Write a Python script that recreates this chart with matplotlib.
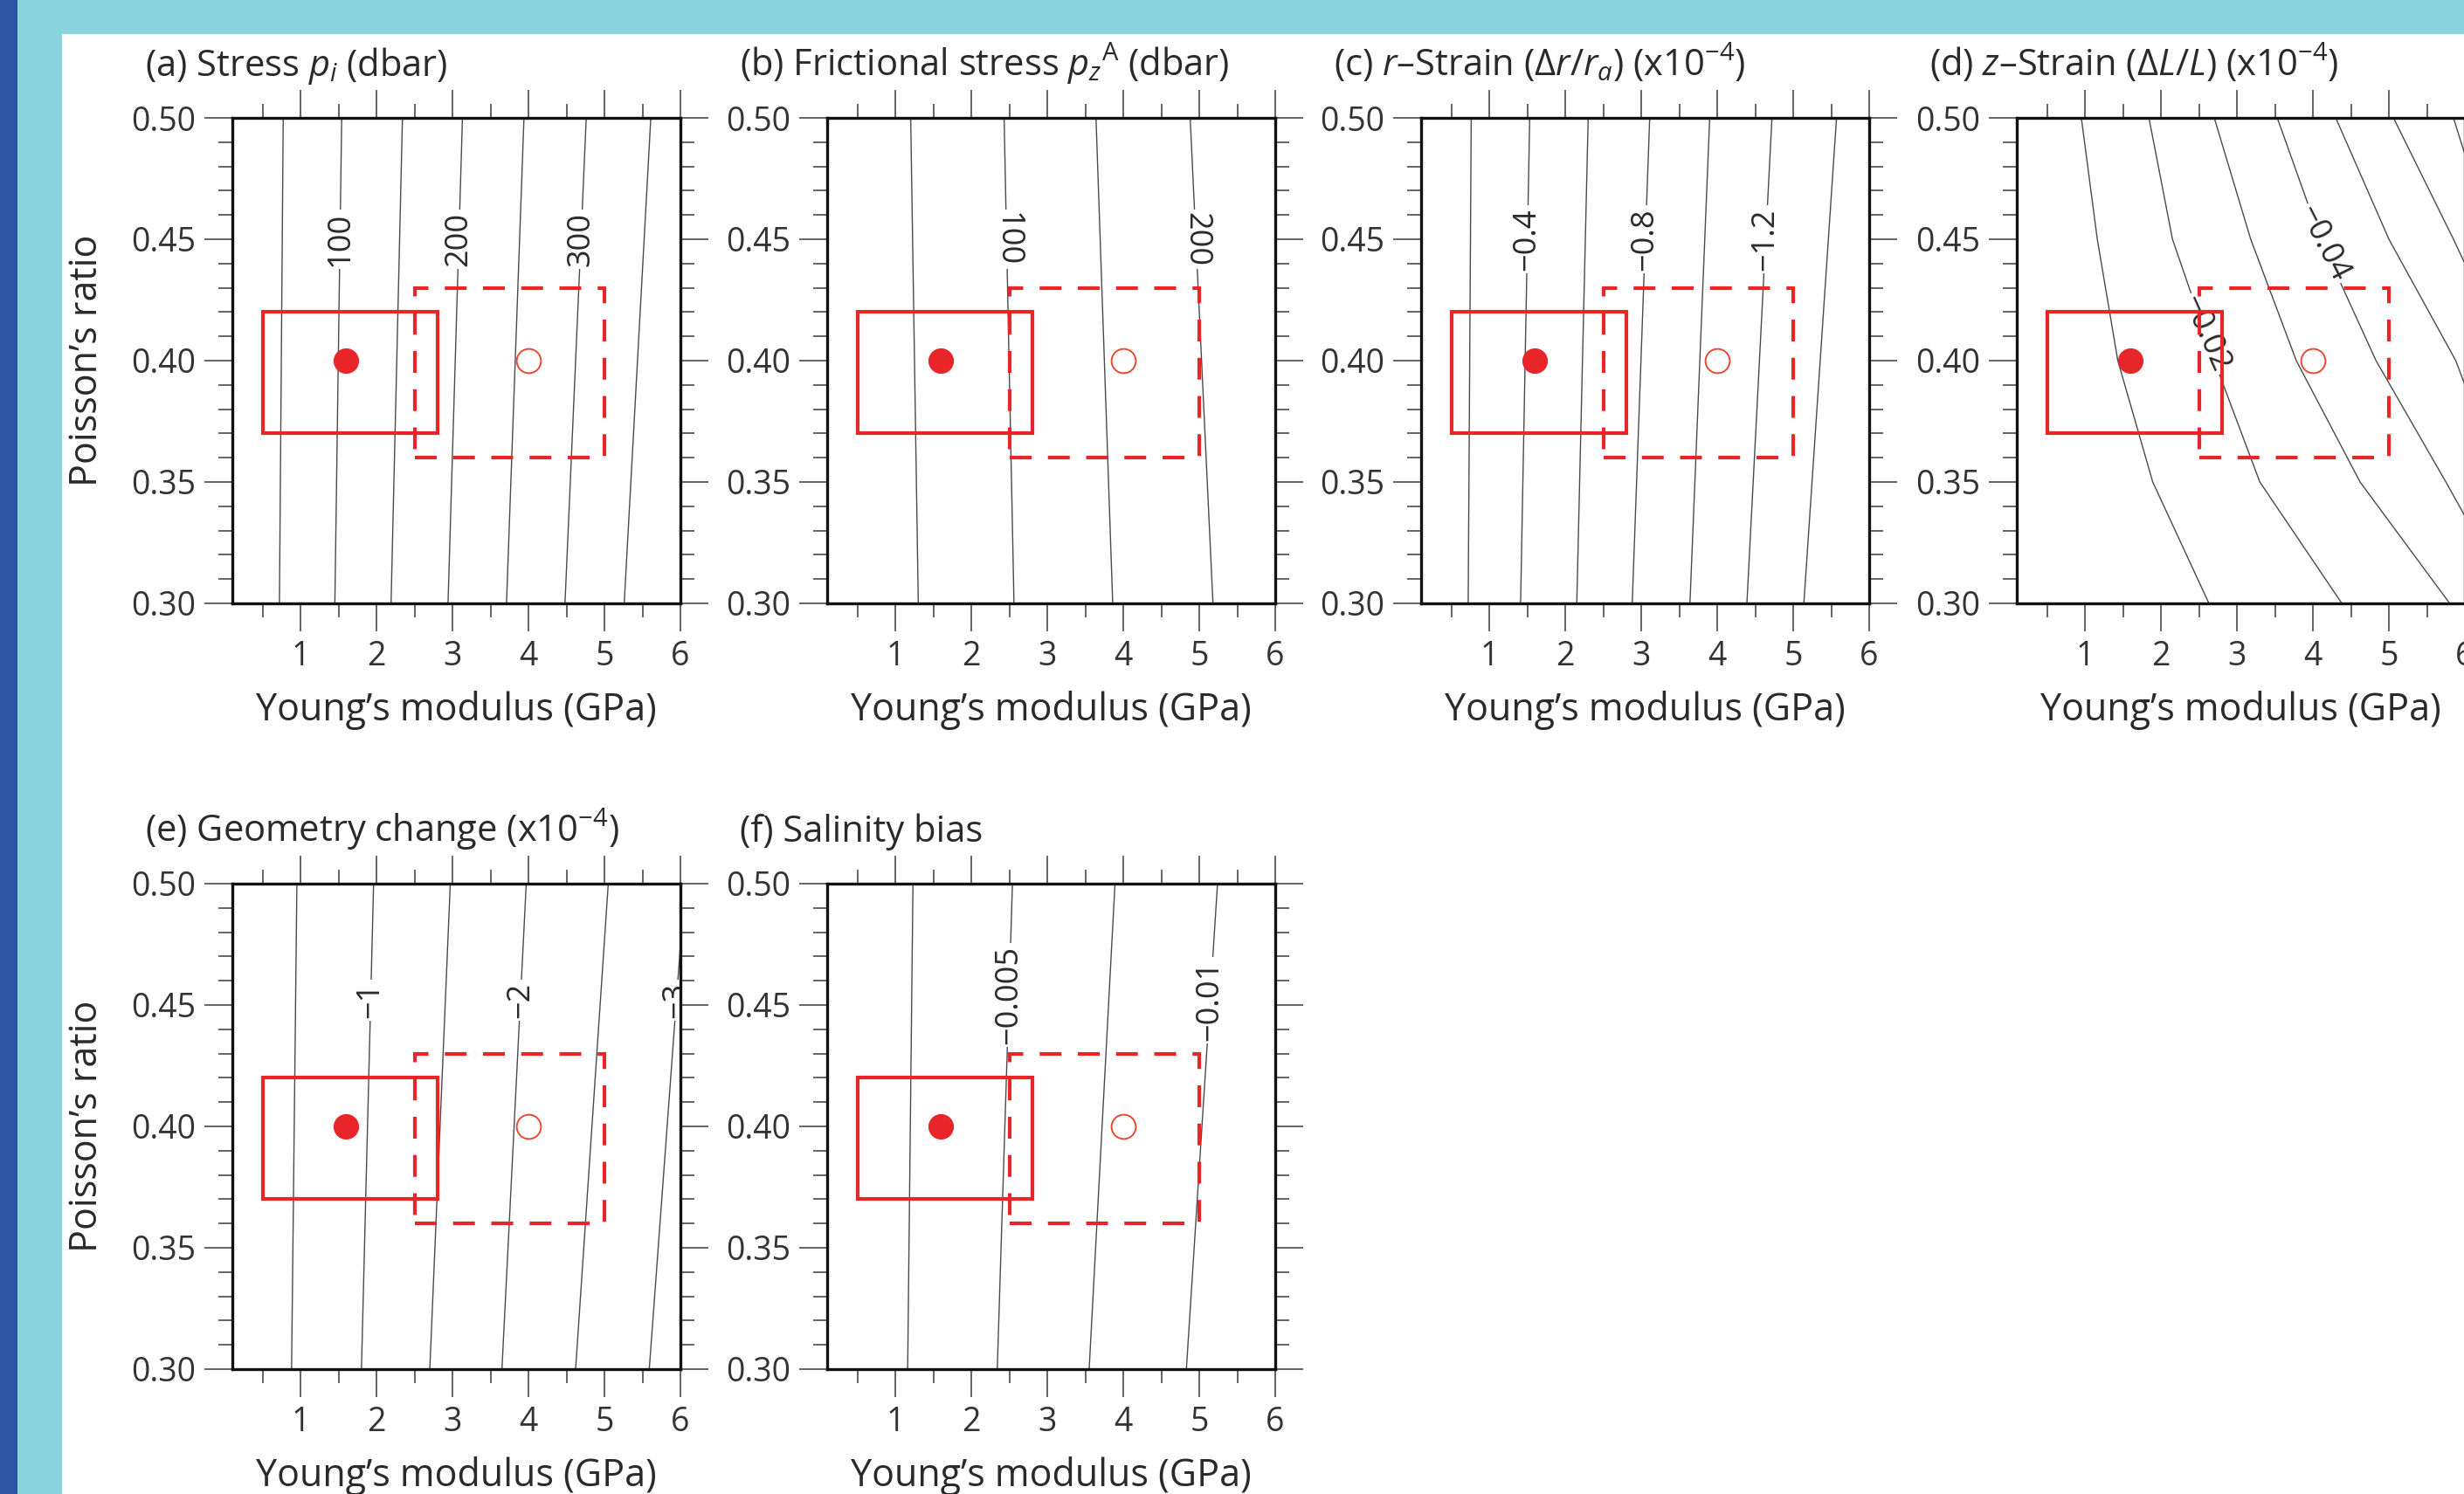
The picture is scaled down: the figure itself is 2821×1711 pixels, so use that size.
import numpy as np
import matplotlib.pyplot as plt
from matplotlib.patches import Rectangle
from matplotlib.ticker import MultipleLocator, FormatStrFormatter

plt.rcParams['font.family'] = ['Open Sans', 'DejaVu Sans']
plt.rcParams['mathtext.fontset'] = 'custom'
plt.rcParams['mathtext.rm'] = 'Open Sans'
plt.rcParams['mathtext.it'] = 'Open Sans:italic'
plt.rcParams['mathtext.bf'] = 'Open Sans:bold'

# --- data --------------------------------------------------------------
# E (GPa) where each contour crosses nu = 0.30 (bottom) and nu = 0.50 (top)
NU_EDGE = [0.30, 0.50]

stress_levels = [50, 100, 150, 200, 250, 300, 350]
stress_bot = [0.72, 1.45, 2.19, 2.94, 3.71, 4.48, 5.26]
stress_top = [0.77, 1.54, 2.34, 3.13, 3.94, 4.76, 5.61]

fric_levels = [50, 100, 150, 200]
fric_bot = [1.30, 2.56, 3.86, 5.18]
fric_top = [1.20, 2.43, 3.64, 4.88]

rstrain_levels = [-0.2, -0.4, -0.6, -0.8, -1.0, -1.2, -1.4]
rstrain_bot = [0.72, 1.41, 2.15, 2.88, 3.64, 4.39, 5.14]
rstrain_top = [0.76, 1.53, 2.30, 3.11, 3.90, 4.72, 5.57]

geom_levels = [-0.5, -1.0, -1.5, -2.0, -2.5, -3.0]
geom_bot = [0.88, 1.80, 2.70, 3.65, 4.62, 5.59]
geom_top = [0.95, 1.96, 2.97, 3.97, 5.05, 6.06]

sal_levels = [-0.0025, -0.005, -0.0075, -0.01]
sal_bot = [1.16, 2.34, 3.55, 4.83]
sal_top = [1.23, 2.54, 3.89, 5.24]

# z-strain contours are curved: (nu, E) samples along each line
zstrain_levels = [-0.01, -0.02, -0.03, -0.04, -0.05, -0.06, -0.07]
zstrain_nu = [
    [0.50, 0.45, 0.40, 0.35, 0.30],
    [0.50, 0.45, 0.40, 0.35, 0.30],
    [0.50, 0.45, 0.40, 0.35, 0.30],
    [0.50, 0.45, 0.40, 0.35, 0.336],
    [0.50, 0.45, 0.40, 0.39],
    [0.50, 0.45, 0.44],
    [0.50, 0.485],
]
zstrain_E = [
    [0.95, 1.16, 1.43, 1.89, 2.63],
    [1.84, 2.15, 2.70, 3.30, 4.38],
    [2.70, 3.18, 3.78, 4.62, 5.80],
    [3.53, 4.10, 4.83, 5.75, 6.00],
    [4.30, 5.00, 5.88, 6.00],
    [5.06, 5.85, 6.00],
    [5.85, 6.00],
]

# labelled contours: (level index, nu of label)
stress_labels = [(1, 0.45), (3, 0.45), (5, 0.45)]
fric_labels = [(1, 0.45), (3, 0.45)]
rstrain_labels = [(1, 0.45), (3, 0.45), (5, 0.45)]
geom_labels = [(1, 0.452), (3, 0.452), (5, 0.452)]
sal_labels = [(1, 0.454), (3, 0.452)]
zstrain_labels = [(1, 0.411, -66), (3, 0.448, -63)]

# parameter ranges / points
ref_box = [0.5, 2.8, 0.37, 0.42]
alt_box = [2.5, 5.0, 0.36, 0.43]
ref_point = (1.6, 0.40)
alt_point = (4.0, 0.40)

titles = [
    r'(a) Stress $p_i$ (dbar)',
    r'(b) Frictional stress $p_z{}^{\mathrm{A}}$ (dbar)',
    r'(c) $r$–Strain ($\Delta r/r_a$) (x10$^{-4}$)',
    r'(d) $z$–Strain ($\Delta L/L$) (x10$^{-4}$)',
    r'(e) Geometry change (x10$^{-4}$)',
    r'(f) Salinity bias',
]

# --- layout ------------------------------------------------------------
W, H = 2821, 1711
COL_LEFT = [266, 947, 1627, 2309]
ROW_TOP = [135, 1012]
AX_W, AX_H = 513, 556
RED = '#e8262a'
TEAL = '#88d3de'
BLUE = '#2c55a4'
TXT = '#2a2a2a'


def fmt(v):
    s = f'{abs(v):g}'
    return ('\u2212' + s) if v < 0 else s


def straight_panel(ax, levels, bot, top, labels, rot):
    for b, t in zip(bot, top):
        ax.plot([b, t], NU_EDGE, color='#4a4a4a', lw=1.0, zorder=1)
    for idx, nu in labels:
        e = np.interp(nu, NU_EDGE, [bot[idx], top[idx]])
        ax.text(e, nu, fmt(levels[idx]), rotation=rot, ha='center', va='center',
                rotation_mode='anchor', fontsize=26, color=TXT, zorder=2,
                clip_on=True, bbox=dict(fc='white', ec='none', pad=2))


def curved_panel(ax):
    for nus, es in zip(zstrain_nu, zstrain_E):
        ax.plot(es, nus, color='#4a4a4a', lw=1.0, zorder=1)
    for idx, nu, rot in zstrain_labels:
        nus = zstrain_nu[idx][::-1]
        es = zstrain_E[idx][::-1]
        e = np.interp(nu, nus, es)
        ax.text(e, nu, fmt(zstrain_levels[idx]), rotation=rot, ha='center', va='center',
                rotation_mode='anchor', fontsize=26, color=TXT, zorder=2,
                bbox=dict(fc='white', ec='none', pad=2))


def decorate(ax, title, first_col):
    ax.set_xlim(0.1, 6.0)
    ax.set_ylim(0.30, 0.50)
    ax.xaxis.set_major_locator(MultipleLocator(1))
    ax.xaxis.set_minor_locator(MultipleLocator(0.5))
    ax.yaxis.set_major_locator(MultipleLocator(0.05))
    ax.yaxis.set_minor_locator(MultipleLocator(0.01))
    ax.yaxis.set_major_formatter(FormatStrFormatter('%.2f'))
    ax.tick_params(which='both', direction='out', top=True, right=True,
                   color='#3a3a3a', width=1.1)
    ax.tick_params(which='major', length=23, labelsize=27, pad=7, labelcolor='#333333')
    ax.tick_params(which='minor', length=11.5)
    for s in ax.spines.values():
        s.set_linewidth(2.4)
        s.set_color('#111111')
        s.set_zorder(5)

    # parameter boxes and points
    x0, x1, y0, y1 = ref_box
    ax.add_patch(Rectangle((x0, y0), x1 - x0, y1 - y0, fill=False, ec=RED, lw=3.0, zorder=3))
    x0, x1, y0, y1 = alt_box
    ax.add_patch(Rectangle((x0, y0), x1 - x0, y1 - y0, fill=False, ec=RED, lw=3.0,
                           ls=(0, (6, 4.5)), zorder=3))
    ax.plot(*ref_point, 'o', ms=20, color=RED, mec=RED, zorder=4)
    ax.plot(*alt_point, 'o', ms=20, mfc='white', mec='#ea4a30', mew=1.4, zorder=4)

    ax.set_xlabel('Young’s modulus (GPa)', fontsize=31, color=TXT)
    ax.xaxis.set_label_coords(0.5, -0.221)
    ax.xaxis.label.set_va('center')
    if first_col:
        ax.set_ylabel('Poisson’s ratio', fontsize=31, color=TXT)
        ax.yaxis.set_label_coords(-0.325, 0.5)
        ax.yaxis.label.set_va('center')
    ax.text(-0.195, 1.086, title, transform=ax.transAxes, ha='left', va='baseline',
            fontsize=30, color=TXT)


fig = plt.figure(figsize=(W / 100, H / 100), dpi=100)
fig.patch.set_facecolor(TEAL)
fig.add_artist(Rectangle((0, 0), 20 / W, 1, transform=fig.transFigure,
                         fc=BLUE, ec='none', zorder=-5))
fig.add_artist(Rectangle((71 / W, 0), 1 - 71 / W, 1 - 39 / H, transform=fig.transFigure,
                         fc='white', ec='none', zorder=-5))

slots = [(0, 0), (1, 0), (2, 0), (3, 0), (0, 1), (1, 1)]
axes = []
for col, row in slots:
    left = COL_LEFT[col] / W
    bottom = 1 - (ROW_TOP[row] + AX_H) / H
    axes.append(fig.add_axes([left, bottom, AX_W / W, AX_H / H]))

straight_panel(axes[0], stress_levels, stress_bot, stress_top, stress_labels, 90)
straight_panel(axes[1], fric_levels, fric_bot, fric_top, fric_labels, 270)
straight_panel(axes[2], rstrain_levels, rstrain_bot, rstrain_top, rstrain_labels, 90)
curved_panel(axes[3])
straight_panel(axes[4], geom_levels, geom_bot, geom_top, geom_labels, 90)
straight_panel(axes[5], sal_levels, sal_bot, sal_top, sal_labels, 90)

for i, ax in enumerate(axes):
    decorate(ax, titles[i], slots[i][0] == 0)

fig.savefig('out.png', dpi=100, facecolor=fig.get_facecolor())
